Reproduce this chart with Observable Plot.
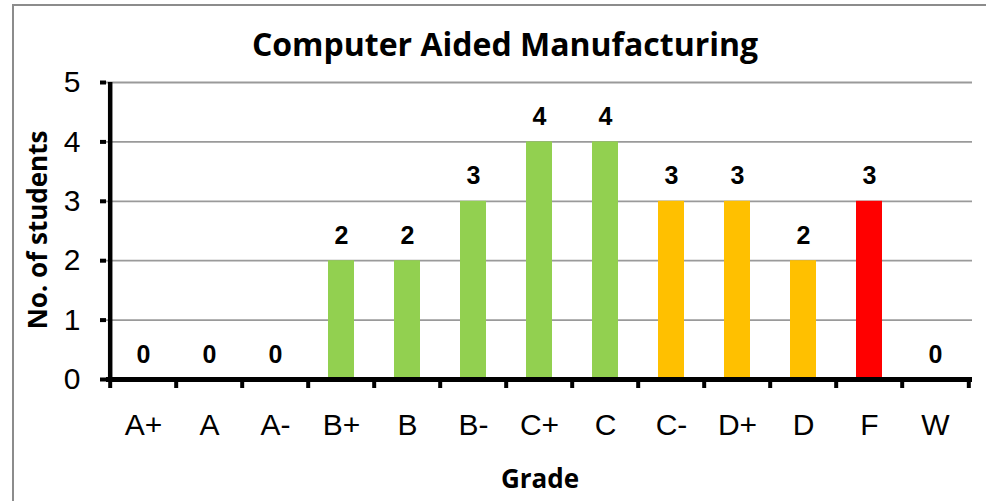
<!DOCTYPE html>
<html>
<head>
<meta charset="utf-8">
<script src="https://cdn.jsdelivr.net/npm/d3@7"></script>
<script src="https://cdn.jsdelivr.net/npm/@observablehq/plot@0.6"></script>
<style>
  html, body { margin: 0; padding: 0; background: #fff; }
  #wrap { position: relative; width: 986px; height: 501px; overflow: hidden; background: #fff; }
  #border { position: absolute; left: 12px; top: 4px; width: 1000px; height: 520px; border: 2px solid #8c8c8c; box-sizing: border-box; }
  #title { position: absolute; left: 0; top: 22px; width: 1010px; text-align: center; font-family: "Open Sans", sans-serif; font-weight: 700; font-size: 32px; line-height: 44px; color: #000; }
  #xlabel { position: absolute; left: 0; top: 460px; width: 1080px; text-align: center; font-family: "Open Sans", sans-serif; font-weight: 700; font-size: 26px; line-height: 36px; color: #000; }
  #ylabel { position: absolute; left: 37px; top: 230px; transform: translate(-50%, -50%) rotate(-90deg); white-space: nowrap; font-family: "Open Sans", sans-serif; font-weight: 700; font-size: 26px; line-height: 36px; color: #000; }
  #chart { position: absolute; left: 0; top: 0; }
</style>
</head>
<body>
<div id="wrap">
  <div id="border"></div>
  <div id="chart"></div>
  <div id="title">Computer Aided Manufacturing</div>
  <div id="ylabel">No. of students</div>
  <div id="xlabel">Grade</div>
</div>
<script>
const grades = ["A+", "A", "A-", "B+", "B", "B-", "C+", "C", "C-", "D+", "D", "F", "W"];
const students = [0, 0, 0, 2, 2, 3, 4, 4, 3, 3, 2, 3, 0];
const barColors = ["#92D050", "#92D050", "#92D050", "#92D050", "#92D050", "#92D050", "#92D050", "#92D050", "#FFC000", "#FFC000", "#FFC000", "#FF0000", "#92D050"];
const yTicks = [0, 1, 2, 3, 4, 5];

const data = grades.map((g, i) => ({grade: g, n: students[i], color: barColors[i]}));

const W = 986, H = 501;
const mL = 106, mR = 14, mT = 82, mB = 122;
const step = (W - mL - mR) / grades.length;
const frameH = H - mT - mB;

const plot = Plot.plot({
  width: W,
  height: H,
  marginLeft: mL,
  marginRight: mR,
  marginTop: mT,
  marginBottom: mB,
  style: {background: "transparent", fontFamily: "'Liberation Sans', Arial, sans-serif", overflow: "visible"},
  x: {domain: grades, paddingInner: 0.6, paddingOuter: 0.3, label: null},
  y: {domain: [0, 5], label: null},
  marks: [
    Plot.ruleY(yTicks.filter(d => d > 0), {stroke: "#9a9a9a", strokeWidth: 1.8}),
    Plot.barY(data, {x: "grade", y: "n", fill: "color"}),
    Plot.text(data, {x: "grade", y: "n", text: d => String(d.n), dy: -25, fontSize: 25, fontWeight: "bold", fill: "#000"}),
    Plot.axisY({ticks: yTicks, tickFormat: d3.format("d"), tickSize: 6, tickPadding: 20, strokeWidth: 4, fontSize: 30, fill: "#000", stroke: "#000", label: null}),
    Plot.axisX({tickSize: 0, tickPadding: 34, fontSize: 30, fill: "#000", label: null}),
    // category boundary tick marks below the x axis
    Plot.tickX(grades, {x: d => d, dx: -step / 2, dy: 9, insetTop: frameH - 9, stroke: "#000", strokeWidth: 4}),
    Plot.tickX([grades[grades.length - 1]], {x: d => d, dx: step / 2, dy: 9, insetTop: frameH - 9, stroke: "#000", strokeWidth: 4}),
    // y axis line
    Plot.tickX([grades[0]], {x: d => d, dx: -step / 2, stroke: "#000", strokeWidth: 4.5}),
    Plot.ruleY([0], {stroke: "#000", strokeWidth: 5})
  ]
});
document.getElementById("chart").appendChild(plot);
</script>
</body>
</html>
